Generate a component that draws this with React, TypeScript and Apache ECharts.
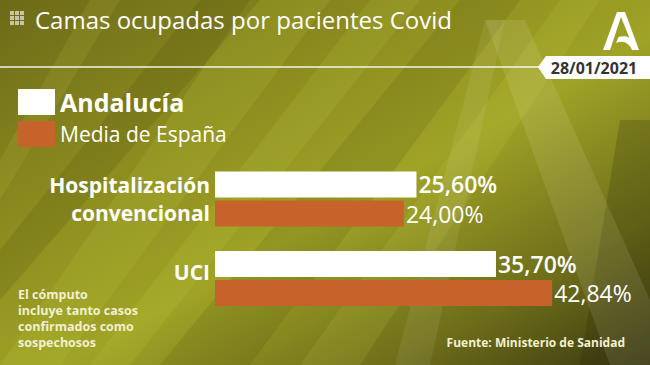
import React, { useEffect, useRef } from "react";
import * as echarts from "echarts";

const title = "Camas ocupadas por pacientes Covid";
const dateLabel = "28/01/2021";
const categories = ["Hospitalización\nconvencional", "UCI"];
const seriesNames = ["Andalucía", "Media de España"];
const andalucia = [25.6, 35.7];
const espana = [24.0, 42.84];
const noteLines = ["El cómputo", "incluye tanto casos", "confirmados como", "sospechosos"];
const source = "Fuente: Ministerio de Sanidad";

const FONT = "'Open Sans', 'DejaVu Sans', sans-serif";
const fmt = (v: number) => v.toFixed(2).replace(".", ",") + "%";

const logoPath =
  "M14 0 L22 0 L36 38 L29 38 C26 31 20 28 13 31 L15.5 25 C20 23.5 24 24 26.5 26 L18 5 L7 38 L0 38 Z";

export default function App() {
  const ref = useRef<HTMLDivElement>(null);
  useEffect(() => {
    if (!ref.current) return;
    try {
      echarts.graphic.registerShape("logoA", echarts.graphic.extendPath(logoPath, {}));
    } catch (e) {}
    const chart = echarts.init(ref.current, null, { renderer: "svg" });

    const streak = (pts: number[][], color: string) => ({
      type: "polygon",
      silent: true,
      z: -10,
      shape: { points: pts },
      style: { fill: color },
    });

    const bgGraphics: any[] = [
      streak([[0, 365], [60, 365], [330, 0], [250, 0]], "rgba(190,200,60,0.18)"),
      streak([[90, 365], [130, 365], [420, 0], [370, 0]], "rgba(200,210,70,0.14)"),
      streak([[0, 250], [0, 300], [260, 0], [200, 0]], "rgba(60,60,10,0.14)"),
      streak([[160, 365], [250, 365], [520, 0], [460, 0]], "rgba(60,60,10,0.12)"),
      streak([[300, 365], [360, 365], [600, 0], [560, 0]], "rgba(210,220,80,0.12)"),
      streak([[0, 160], [0, 200], [120, 0], [90, 0]], "rgba(200,200,70,0.14)"),
      streak([[580, 365], [650, 365], [650, 120], [620, 120]], "rgba(30,30,5,0.18)"),
      streak([[485, 20], [525, 20], [650, 300], [650, 365], [610, 365]], "rgba(255,255,230,0.10)"),
      streak([[485, 20], [505, 20], [430, 365], [395, 365]], "rgba(255,255,230,0.08)"),
    ];

    const fg: any[] = [
      ...[0, 1, 2].flatMap((r) =>
        [0, 1, 2].map((c) => ({
          type: "rect",
          shape: { x: 10 + c * 5, y: 11 + r * 5, width: 4, height: 4 },
          style: { fill: "rgba(220,220,200,0.8)" },
        }))
      ),
      {
        type: "text",
        x: 35,
        y: 19,
        style: {
          text: title,
          font: `24px ${FONT}`,
          fill: "#ffffff",
          verticalAlign: "middle",
        },
      },
      {
        type: "line",
        shape: { x1: 0, y1: 67, x2: 545, y2: 67 },
        style: { stroke: "rgba(255,255,255,0.9)", lineWidth: 1.5 },
      },
      {
        type: "polygon",
        shape: { points: [[538, 67], [546, 56], [650, 56], [650, 79], [546, 79]] },
        style: { fill: "#ffffff" },
      },
      {
        type: "text",
        x: 594,
        y: 67.5,
        style: {
          text: dateLabel,
          font: `bold 16px ${FONT}`,
          fill: "#333333",
          align: "center",
          verticalAlign: "middle",
        },
      },
      {
        type: "logoA",
        x: 603,
        y: 12,
        scaleX: 1,
        scaleY: 1,
        style: { fill: "#ffffff" },
      },
      ...noteLines.map((t, i) => ({
        type: "text",
        x: 18,
        y: 294 + i * 16.3,
        style: {
          text: t,
          font: `bold 12.5px ${FONT}`,
          fill: "#f2f0d0",
          verticalAlign: "middle",
        },
      })),
      {
        type: "text",
        x: 625,
        y: 342,
        style: {
          text: source,
          font: `bold 12px ${FONT}`,
          fill: "#f2f0d0",
          align: "right",
          verticalAlign: "middle",
        },
      },
    ];

    chart.setOption({
      animation: false,
      backgroundColor: {
        type: "linear",
        x: 0,
        y: 0,
        x2: 1,
        y2: 1,
        colorStops: [
          { offset: 0, color: "#6c6a18" },
          { offset: 0.35, color: "#8f8f20" },
          { offset: 0.55, color: "#9fa326" },
          { offset: 0.8, color: "#6e6e1a" },
          { offset: 1, color: "#3a3810" },
        ],
      },
      graphic: [...bgGraphics, ...fg],
      legend: {
        orient: "vertical",
        left: 18,
        top: 89,
        padding: 0,
        itemWidth: 37,
        itemHeight: 26,
        itemGap: 6,
        icon: "rect",
        selectedMode: false,
        data: [
          {
            name: seriesNames[0],
            textStyle: { color: "#fff", fontSize: 25, fontWeight: "bold", fontFamily: FONT },
          },
          {
            name: seriesNames[1],
            textStyle: { color: "#fff", fontSize: 21, fontFamily: FONT },
          },
        ],
      },
      grid: { left: 215, right: 41.5, top: 159.25, bottom: 46.75, containLabel: false },
      xAxis: {
        type: "value",
        min: 0,
        max: 50,
        show: false,
      },
      yAxis: {
        type: "category",
        inverse: true,
        data: categories,
        axisLine: { show: false },
        axisTick: { show: false },
        splitLine: { show: false },
        axisLabel: {
          margin: 5,
          color: "#ffffff",
          fontSize: 21,
          fontWeight: "bold",
          fontFamily: FONT,
          lineHeight: 28,
          formatter: (v: string) => (v === "UCI" ? "{u|UCI}" : v),
          rich: {
            u: {
              color: "#ffffff",
              fontSize: 21,
              fontWeight: "bold",
              fontFamily: FONT,
              padding: [0, 0, 14, 0],
            },
          },
        },
      },
      series: [
        {
          name: seriesNames[0],
          type: "bar",
          data: andalucia,
          barWidth: 26,
          barGap: "12%",
          itemStyle: { color: "#ffffff" },
          label: {
            show: true,
            position: "right",
            distance: 2,
            formatter: (p: any) => fmt(p.value),
            color: "#ffffff",
            fontSize: 23,
            fontWeight: 600,
            fontFamily: FONT,
          },
        },
        {
          name: seriesNames[1],
          type: "bar",
          data: espana,
          barWidth: 26,
          itemStyle: { color: "#c6622a" },
          label: {
            show: true,
            position: "right",
            distance: 2,
            formatter: (p: any) => fmt(p.value),
            color: "#ffffff",
            fontSize: 23,
            fontFamily: FONT,
          },
        },
      ],
    });
    return () => chart.dispose();
  }, []);
  return (
    <div
      ref={ref}
      style={{ position: "fixed", left: 0, top: 0, width: 650, height: 365 }}
    />
  );
}
